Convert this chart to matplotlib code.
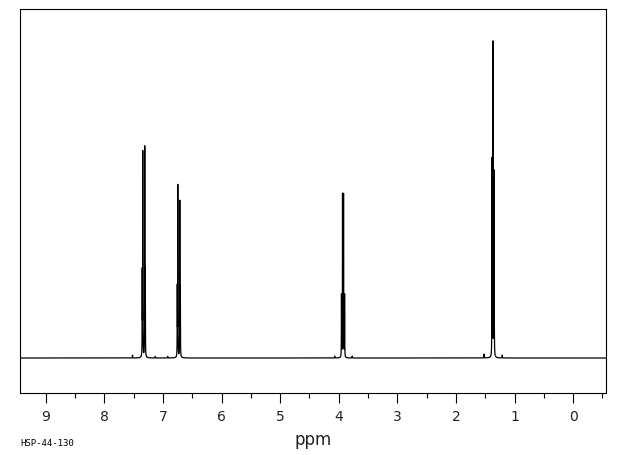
import numpy as np
import matplotlib
matplotlib.use("Agg")
import matplotlib.pyplot as plt
from matplotlib.ticker import MultipleLocator

# peak list (ppm, relative height)
arom_a_ppm = [7.354, 7.345, 7.311, 7.302]
arom_a_int = [25.8, 64.0, 65.5, 25.8]
arom_b_ppm = [6.756, 6.747, 6.713, 6.704]
arom_b_int = [21.1, 53.6, 48.6, 21.1]
ch2_ppm = [3.954, 3.936, 3.919, 3.901]
ch2_int = [19.5, 51.0, 51.0, 19.5]
ch3_ppm = [1.385, 1.367, 1.349]
ch3_int = [62.0, 98.5, 58.0]
small_ppm = [7.52, 7.13, 6.92, 4.07, 3.77, 1.52, 1.21]
small_int = [0.9, 0.5, 0.5, 0.6, 0.6, 1.2, 0.9]

sample_id = "HSP-44-130"

peaks_ppm = arom_a_ppm + arom_b_ppm + ch2_ppm + ch3_ppm + small_ppm
peaks_int = arom_a_int + arom_b_int + ch2_int + ch3_int + small_int

x = np.linspace(9.44, -0.56, 40001)
y = np.zeros_like(x)
g = 0.0018  # half width, ppm
for p, h in zip(peaks_ppm, peaks_int):
    y += h * g**2 / (g**2 + (x - p)**2)

fig = plt.figure(figsize=(6.2, 4.55), dpi=100)
ax = fig.add_axes([20/620, 1 - 393/455, 586/620, 384/455])
ax.plot(x, y, color='black', lw=0.9)
ax.set_xlim(9.44, -0.56)
ax.set_ylim(-11.0, 109.7)

ax.xaxis.set_major_locator(MultipleLocator(1))
ax.xaxis.set_minor_locator(MultipleLocator(0.5))
ax.tick_params(axis='x', which='major', direction='out', length=7.2, width=0.8,
               pad=5, labelsize=10, colors='black', labelcolor='#222222')
ax.tick_params(axis='x', which='minor', direction='out', length=3.6, width=0.8)
ax.tick_params(axis='y', left=False, labelleft=False)
for s in ax.spines.values():
    s.set_linewidth(0.8)

fig.text(313/620, 1 - 440/455, "ppm", ha='center', va='center', fontsize=12,
         color='#222222')
fig.text(20/620, 1 - 443/455, sample_id, ha='left', va='center', fontsize=6.5,
         family='DejaVu Sans Mono')

fig.savefig("out.png", dpi=100)
